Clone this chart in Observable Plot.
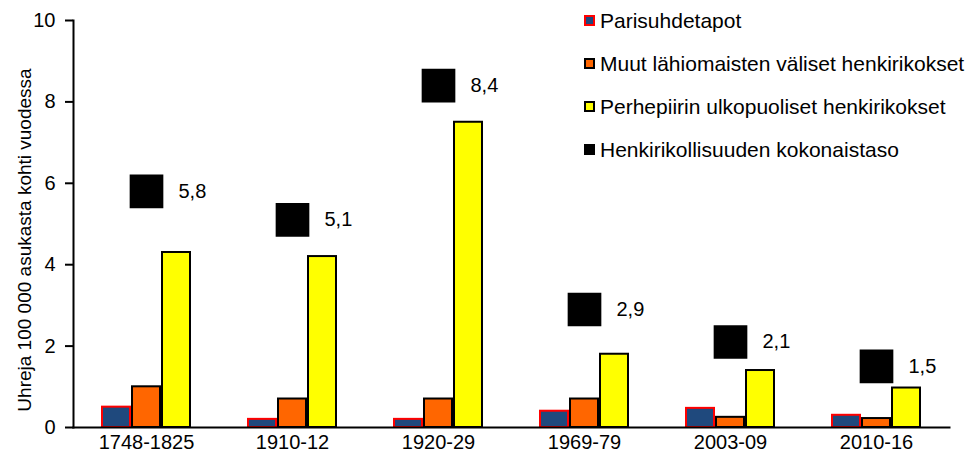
<!DOCTYPE html>
<html><head><meta charset="utf-8">
<script src="https://cdn.jsdelivr.net/npm/d3@7"></script>
<script src="https://cdn.jsdelivr.net/npm/@observablehq/plot@0.6"></script>
<style>
body{margin:0;background:#fff;font-family:"Liberation Sans",Arial,sans-serif;}
#wrap{position:relative;width:974px;height:464px;}
#legend{position:absolute;left:584px;top:-1px;}
.item{display:flex;align-items:center;height:43px;font-size:21px;color:#000;white-space:nowrap}
.sw{width:7px;height:7px;border:2px solid #000;margin-right:5px}
</style></head><body><div id="wrap"><div id="chart"></div><div id="legend"></div></div>
<script>
const periods = ["1748-1825","1910-12","1920-29","1969-79","2003-09","2010-16"];
const seriesNames = ["Parisuhdetapot","Muut lähiomaisten väliset henkirikokset","Perhepiirin ulkopuoliset henkirikokset","Henkirikollisuuden kokonaistaso"];
const parisuhde = [0.5,0.2,0.2,0.4,0.47,0.3];
const muut = [1.0,0.7,0.7,0.7,0.25,0.22];
const ulko = [4.3,4.2,7.5,1.8,1.4,0.97];
const total = [5.8,5.1,8.4,2.9,2.1,1.5];
const totalLabels = ["5,8","5,1","8,4","2,9","2,1","1,5"];
const yTicks = [0,2,4,6,8,10];
const yTitle = "Uhreja 100 000 asukasta kohti vuodessa";
const fills = ["#1f497d","#ff6600","#ffff00","#000000"];
const strokes = ["#ff0000","#000000","#000000","#000000"];

const seriesVals = [parisuhde, muut, ulko];
const bars = [];
periods.forEach((p,i)=>seriesVals.forEach((arr,s)=>bars.push({period:p, series:seriesNames[s], value:arr[i], fill:fills[s], stroke:strokes[s]})));
const totals = periods.map((p,i)=>({period:p, value:total[i], label:totalLabels[i]}));

const font = "Liberation Sans, Arial, sans-serif";
const chart = Plot.plot({
  width:974, height:464,
  marginLeft:71, marginRight:23, marginTop:20, marginBottom:37,
  style:{fontFamily:font, fontSize:"20px", color:"#000", background:"transparent"},
  fx:{domain:periods, padding:0, label:null, axis:null},
  x:{domain:seriesNames.slice(0,3), paddingInner:0.065, paddingOuter:0.9, axis:null},
  y:{domain:[0,10], axis:null},
  marks:[
    Plot.barY(bars, {fx:"period", x:"series", y:"value", fill:"fill", stroke:"stroke", strokeWidth:2}),
    Plot.frame({anchor:"bottom", facet:"super", stroke:"#000", strokeWidth:2}),
    Plot.frame({anchor:"left", facet:"super", stroke:"#000", strokeWidth:2}),
    Plot.axisY({ticks:yTicks, tickSize:8, tickPadding:10, label:null, fontSize:20, strokeWidth:2}),
    Plot.text([yTitle], {facet:"super", text:d=>d, frameAnchor:"left", rotate:-90, dx:-49, dy:16, textAnchor:"middle", lineAnchor:"middle", fontSize:19, fill:"#000"}),
    Plot.axisFx({anchor:"bottom", tickSize:0, tickPadding:7, label:null, fontSize:20}),
    Plot.dot(totals, {fx:"period", y:"value", symbol:"square", r:19, fill:"#000"}),
    Plot.text(totals, {fx:"period", y:"value", text:"label", dx:32, textAnchor:"start", fontSize:20})
  ]
});
document.getElementById("chart").appendChild(chart);

const lg = document.getElementById("legend");
seriesNames.forEach((n,i)=>{
  const it = document.createElement("div"); it.className="item";
  const sw = document.createElement("span"); sw.className="sw";
  sw.style.background = fills[i]; sw.style.borderColor = strokes[i];
  it.appendChild(sw);
  const t = document.createElement("span"); t.textContent = n; it.appendChild(t);
  lg.appendChild(it);
});
</script></body></html>
